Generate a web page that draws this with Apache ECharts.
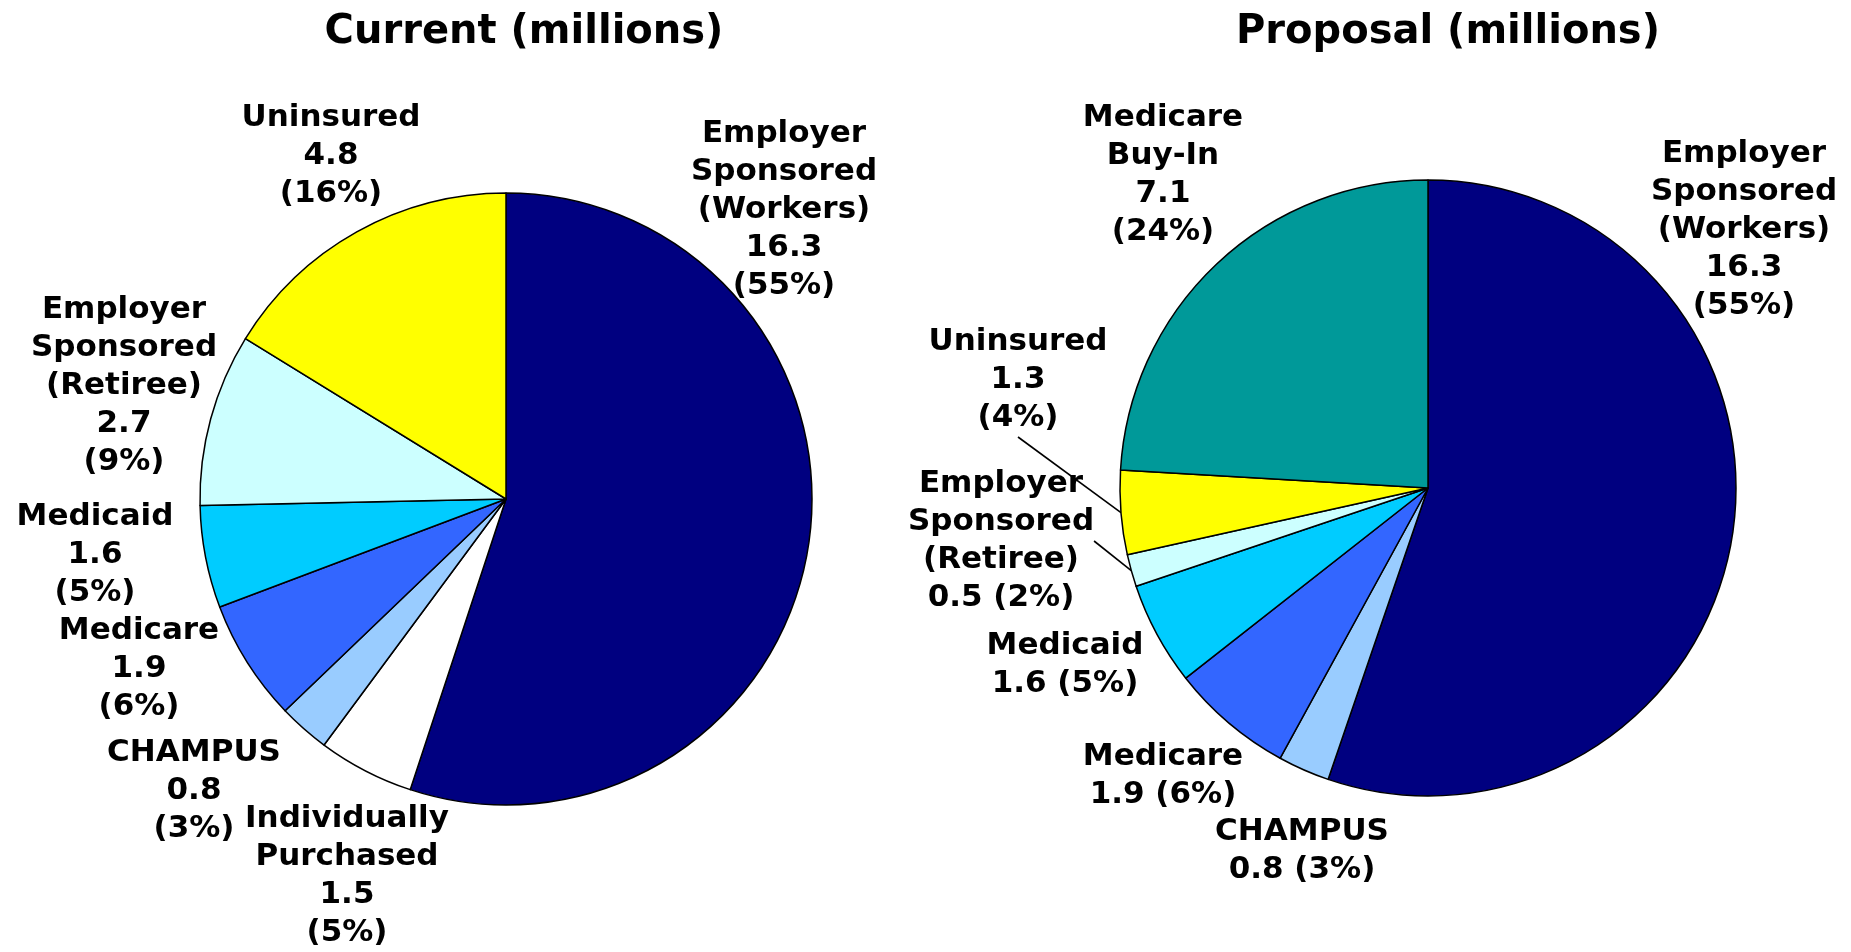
<!DOCTYPE html>
<html>
<head>
<meta charset="utf-8">
<script src="https://cdn.jsdelivr.net/npm/echarts@6/dist/echarts.min.js"></script>
<style>
  html, body { margin: 0; padding: 0; background: #fff; }
  #chart { width: 1851px; height: 952px; }
</style>
</head>
<body>
<div id="chart"></div>
<script>
// values (millions), clockwise from 12 o'clock
var currentNames = ['Employer\nSponsored\n(Workers)', 'Individually\nPurchased', 'CHAMPUS', 'Medicare', 'Medicaid', 'Employer\nSponsored\n(Retiree)', 'Uninsured'];
var currentValues = [16.3, 1.5, 0.8, 1.9, 1.6, 2.7, 4.8];

var proposalNames = ['Employer\nSponsored\n(Workers)', 'CHAMPUS', 'Medicare', 'Medicaid', 'Employer\nSponsored\n(Retiree)', 'Uninsured', 'Medicare\nBuy-In'];
var proposalValues = [16.3, 0.8, 1.9, 1.6, 0.5, 1.3, 7.1];

var titles = ['Current (millions)', 'Proposal (millions)'];

// slice colours by category
var colors = {
    'Employer\nSponsored\n(Workers)': '#000080',
    'Individually\nPurchased': '#ffffff',
    'CHAMPUS': '#99ccff',
    'Medicare': '#3366ff',
    'Medicaid': '#00ccff',
    'Employer\nSponsored\n(Retiree)': '#ccffff',
    'Uninsured': '#ffff00',
    'Medicare\nBuy-In': '#009999'
};

// label placement (centre of text block) per series / slice
var labelPos = [
    [[784, 210], [347, 876], [194, 791], [139, 669], [95, 555], [124, 386], [331, 156]],
    [[1744, 230], [1302, 851], [1163, 776], [1065, 665], [1001, 541], [1018, 380], [1163, 175]]
];
// on the right pie these labels put value and percent on one line
var inlineValue = ['CHAMPUS', 'Medicare', 'Medicaid', 'Employer\nSponsored\n(Retiree)'];
// right pie slices that get a leader line
var withLine = ['Employer\nSponsored\n(Retiree)', 'Uninsured'];

var font = 'DejaVu Sans';

function sum(arr) {
    var s = 0;
    for (var i = 0; i < arr.length; i++) s += arr[i];
    return s;
}

function buildData(names, values, lines) {
    var out = [];
    for (var i = 0; i < names.length; i++) {
        var item = {
            name: names[i],
            value: values[i],
            itemStyle: { color: colors[names[i]] }
        };
        if (lines && withLine.indexOf(names[i]) >= 0) {
            item.labelLine = { show: true };
        }
        out.push(item);
    }
    return out;
}

function makeFormatter(values, inline) {
    var total = sum(values);
    return function (p) {
        var pct = Math.round(p.value / total * 100);
        if (inline && inlineValue.indexOf(p.name) >= 0) {
            return p.name + '\n' + p.value.toFixed(1) + ' (' + pct + '%)';
        }
        return p.name + '\n' + p.value.toFixed(1) + '\n(' + pct + '%)';
    };
}

function pieSeries(idx, center, radius, names, values, inline) {
    return {
        type: 'pie',
        center: center,
        radius: radius,
        startAngle: 90,
        clockwise: true,
        avoidLabelOverlap: false,
        silent: true,
        emphasis: { scale: false },
        itemStyle: { borderColor: '#000', borderWidth: 1.5 },
        label: {
            show: true,
            position: 'outside',
            formatter: makeFormatter(values, inline),
            fontFamily: font,
            fontWeight: 'bold',
            fontSize: 31,
            lineHeight: 38,
            color: '#000',
            align: 'center'
        },
        labelLine: {
            show: false,
            length: 0,
            length2: 0,
            smooth: false,
            lineStyle: { color: '#000', width: 1.6 }
        },
        labelLayout: function (params) {
            var p = labelPos[idx][params.dataIndex];
            return { x: p[0], y: p[1], align: 'center', verticalAlign: 'middle' };
        },
        data: buildData(names, values, inline)
    };
}

var myChart = echarts.init(document.getElementById('chart'));

myChart.setOption({
    backgroundColor: '#fff',
    animation: false,
    title: [
        {
            text: titles[0], left: 519, top: 8, textAlign: 'center',
            textStyle: { fontFamily: font, fontWeight: 'bold', fontSize: 40, color: '#000' }
        },
        {
            text: titles[1], left: 1443, top: 8, textAlign: 'center',
            textStyle: { fontFamily: font, fontWeight: 'bold', fontSize: 40, color: '#000' }
        }
    ],
    series: [
        pieSeries(0, [506, 499], 306, currentNames, currentValues, false),
        pieSeries(1, [1428, 488], 308, proposalNames, proposalValues, true)
    ]
});
</script>
</body>
</html>
